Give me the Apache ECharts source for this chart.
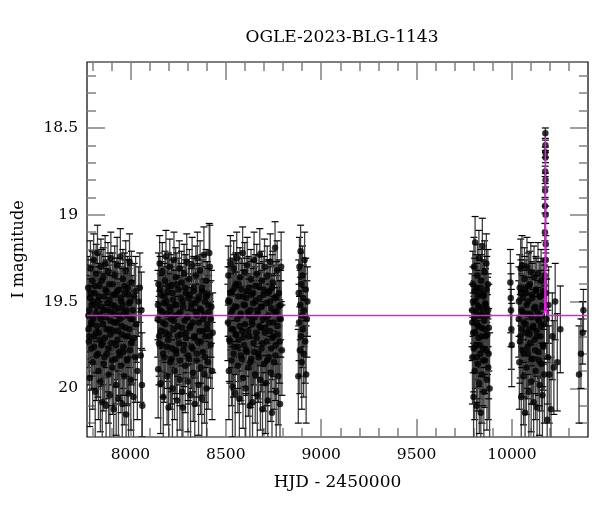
<!DOCTYPE html>
<html><head><meta charset="utf-8">
<script src="https://cdn.jsdelivr.net/npm/echarts@6/dist/echarts.min.js"></script>
<style>html,body{margin:0;padding:0;background:#fff}#c{width:600px;height:512px}</style>
</head><body><div id="c"></div>
<script>
// ---- Data: [HJD-2450000, I mag, error] ----
var season1 = [[7778,19.42,0.18],[7780,19.66,0.22],[7782,19.73,0.25],[7784,19.55,0.2],[7786,19.94,0.28],[7788,19.48,0.19],[7790,19.31,0.16],[7793,19.62,0.21],[7795,19.77,0.24],[7797,19.52,0.2],[7800,19.38,0.17],[7802,19.85,0.27],[7805,19.6,0.22],[7807,19.26,0.15],[7810,19.7,0.23],[7812,19.45,0.19],[7815,20.02,0.3],[7817,19.57,0.21],[7820,19.34,0.17],[7822,19.81,0.26],[7825,19.64,0.22],[7827,19.22,0.16],[7830,19.5,0.2],[7832,19.9,0.28],[7835,19.68,0.23],[7837,19.41,0.18],[7840,19.58,0.21],[7842,19.96,0.29],[7845,19.3,0.16],[7847,19.75,0.24],[7850,19.53,0.2],[7852,20.08,0.31],[7855,19.63,0.22],[7857,19.36,0.17],[7860,19.86,0.27],[7862,19.47,0.19],[7865,19.71,0.23],[7867,19.28,0.16],[7870,19.59,0.21],[7872,20.1,0.3],[7875,19.44,0.18],[7877,19.8,0.26],[7880,19.55,0.21],[7882,19.33,0.17],[7885,19.92,0.28],[7887,19.66,0.22],[7890,19.49,0.2],[7892,20.04,0.3],[7895,19.61,0.21],[7897,19.25,0.15],[7900,19.74,0.24],[7902,19.52,0.2],[7905,19.88,0.27],[7907,19.4,0.18],[7910,19.67,0.22],[7912,20.12,0.32],[7915,19.57,0.21],[7917,19.35,0.17],[7920,19.83,0.26],[7922,19.46,0.19],[7925,19.98,0.29],[7927,19.62,0.22],[7930,19.29,0.16],[7932,19.72,0.23],[7935,19.54,0.2],[7937,20.06,0.3],[7940,19.43,0.18],[7942,19.79,0.25],[7945,19.6,0.21],[7947,19.24,0.16],[7950,19.87,0.27],[7952,19.5,0.2],[7955,19.69,0.23],[7957,20.09,0.31],[7960,19.37,0.17],[7962,19.76,0.24],[7965,19.56,0.21],[7967,19.93,0.28],[7970,19.45,0.19],[7972,19.65,0.22],[7975,19.32,0.17],[7977,20.15,0.33],[7980,19.58,0.21],[7982,19.84,0.26],[7985,19.42,0.18],[7987,19.7,0.23],[7990,20.03,0.3],[7992,19.51,0.2],[7995,19.27,0.16],[7997,19.78,0.25],[8000,19.6,0.21],[8002,19.95,0.29],[8005,19.39,0.18],[8008,19.73,0.24],[8012,19.55,0.2],[8016,20.05,0.3],[8020,19.47,0.19],[8025,19.82,0.26],[8030,19.63,0.22],[8036,19.9,0.28],[8042,19.5,0.2],[8049,19.42,0.2],[8054,19.81,0.27],[8057,19.55,0.22],[8060,19.98,0.3],[8062,20.1,0.32]];
var season1b = [[7779.5,19.58,0.21],[7785,19.7,0.23],[7791,19.45,0.19],[7798,19.63,0.22],[7804,19.5,0.2],[7809,19.76,0.24],[7814,19.41,0.19],[7819,19.68,0.23],[7824,19.53,0.2],[7829,19.8,0.25],[7834,19.47,0.19],[7839,19.72,0.24],[7844,19.6,0.21],[7849,19.38,0.18],[7854,19.74,0.24],[7859,19.55,0.21],[7864,19.82,0.26],[7869,19.43,0.19],[7874,19.66,0.22],[7879,19.51,0.2],[7884,19.77,0.25],[7889,19.4,0.18],[7894,19.69,0.23],[7899,19.56,0.21],[7904,19.84,0.26],[7909,19.46,0.19],[7914,19.62,0.22],[7919,19.53,0.2],[7924,19.75,0.24],[7929,19.44,0.19],[7934,19.67,0.23],[7939,19.58,0.21],[7944,19.81,0.26],[7949,19.48,0.2],[7954,19.64,0.22],[7959,19.52,0.21],[7964,19.79,0.25],[7969,19.41,0.19],[7974,19.7,0.23],[7979,19.55,0.21],[7984,19.83,0.26],[7989,19.46,0.2],[7994,19.66,0.22],[7999,19.5,0.21],[8004,19.74,0.24],[8010,19.6,0.22],[8018,19.71,0.24],[8027,19.44,0.2]];
var season2 = [[8143,19.6,0.22],[8145,19.89,0.28],[8147,19.4,0.18],[8150,19.7,0.23],[8153,19.28,0.16],[8156,19.55,0.21],[8158,19.97,0.29],[8161,19.46,0.19],[8164,19.75,0.24],[8167,19.33,0.17],[8170,19.62,0.22],[8172,20.05,0.3],[8175,19.51,0.2],[8178,19.82,0.26],[8181,19.38,0.17],[8184,19.68,0.23],[8186,19.24,0.15],[8189,19.57,0.21],[8192,19.93,0.28],[8195,19.44,0.19],[8198,19.72,0.24],[8200,20.11,0.32],[8203,19.53,0.2],[8206,19.3,0.16],[8209,19.85,0.27],[8212,19.6,0.22],[8214,19.41,0.18],[8217,19.77,0.25],[8220,20.0,0.3],[8223,19.49,0.19],[8226,19.66,0.22],[8228,19.26,0.16],[8231,19.9,0.28],[8234,19.58,0.21],[8237,19.36,0.17],[8240,19.8,0.26],[8242,19.52,0.2],[8245,20.07,0.31],[8248,19.64,0.22],[8251,19.43,0.18],[8254,19.74,0.24],[8256,19.31,0.16],[8259,19.95,0.29],[8262,19.56,0.21],[8265,19.69,0.23],[8268,19.39,0.18],[8270,20.02,0.3],[8273,19.5,0.2],[8275,20.11,0.33],[8278,19.78,0.25],[8281,19.34,0.17],[8284,19.61,0.22],[8287,19.87,0.27],[8290,19.45,0.19],[8292,19.71,0.23],[8295,19.27,0.16],[8298,19.59,0.21],[8301,19.96,0.29],[8304,19.48,0.19],[8306,19.83,0.26],[8309,19.37,0.17],[8312,19.65,0.22],[8315,20.04,0.3],[8318,19.54,0.2],[8320,19.76,0.24],[8323,19.29,0.16],[8326,19.62,0.22],[8329,19.91,0.28],[8332,19.42,0.18],[8334,19.7,0.23],[8337,20.09,0.31],[8340,19.51,0.2],[8343,19.35,0.17],[8346,19.84,0.26],[8348,19.58,0.21],[8351,19.25,0.15],[8354,19.73,0.24],[8357,19.98,0.29],[8360,19.47,0.19],[8362,19.67,0.23],[8365,19.32,0.17],[8368,19.88,0.27],[8371,19.55,0.21],[8374,20.06,0.31],[8376,19.44,0.18],[8379,19.79,0.25],[8382,19.6,0.22],[8385,19.23,0.16],[8388,19.92,0.28],[8390,19.5,0.2],[8393,19.7,0.23],[8396,19.38,0.18],[8399,20.0,0.3],[8402,19.63,0.22],[8404,19.46,0.19],[8407,19.85,0.27],[8410,19.56,0.21],[8413,19.22,0.17],[8416,19.3,0.24],[8420,19.75,0.25],[8424,19.53,0.21],[8428,19.9,0.28],[8431,19.68,0.23]];
var season2b = [[8144,19.52,0.2],[8149,19.74,0.24],[8155,19.43,0.19],[8160,19.67,0.23],[8166,19.56,0.21],[8171,19.8,0.25],[8177,19.47,0.19],[8182,19.63,0.22],[8188,19.5,0.2],[8193,19.76,0.24],[8199,19.41,0.19],[8204,19.69,0.23],[8210,19.55,0.21],[8215,19.83,0.26],[8221,19.45,0.19],[8226,19.61,0.22],[8232,19.52,0.2],[8237,19.78,0.25],[8243,19.4,0.18],[8248,19.7,0.23],[8254,19.57,0.21],[8259,19.84,0.26],[8265,19.48,0.2],[8270,19.65,0.22],[8276,19.53,0.21],[8281,19.75,0.24],[8287,19.42,0.19],[8292,19.68,0.23],[8298,19.59,0.22],[8303,19.81,0.26],[8309,19.46,0.19],[8314,19.64,0.22],[8320,19.51,0.2],[8325,19.77,0.25],[8331,19.44,0.19],[8336,19.71,0.23],[8342,19.56,0.21],[8347,19.8,0.25],[8353,19.49,0.2],[8358,19.62,0.22],[8364,19.54,0.21],[8369,19.73,0.24],[8375,19.42,0.19],[8380,19.67,0.23],[8386,19.58,0.21],[8391,19.82,0.26],[8397,19.47,0.2],[8402,19.66,0.22],[8408,19.52,0.21],[8414,19.7,0.24],[8422,19.6,0.22]];
var season3 = [[8511,19.62,0.22],[8513,19.35,0.17],[8516,19.9,0.28],[8519,19.5,0.2],[8522,19.73,0.24],[8524,19.28,0.16],[8527,19.57,0.21],[8530,19.84,0.26],[8533,19.44,0.19],[8535,19.99,0.29],[8538,19.66,0.22],[8541,19.31,0.16],[8544,19.76,0.25],[8546,19.53,0.2],[8549,20.03,0.3],[8552,19.4,0.18],[8555,19.69,0.23],[8557,19.25,0.15],[8560,19.6,0.22],[8563,19.87,0.27],[8566,19.47,0.19],[8568,19.72,0.24],[8571,20.06,0.31],[8574,19.36,0.17],[8577,19.58,0.21],[8579,19.81,0.26],[8582,19.43,0.18],[8585,19.67,0.23],[8588,19.22,0.15],[8590,19.94,0.29],[8593,19.52,0.2],[8596,19.75,0.24],[8599,19.33,0.17],[8601,19.63,0.22],[8604,20.0,0.3],[8607,19.48,0.19],[8610,19.79,0.25],[8612,19.29,0.16],[8615,19.56,0.21],[8618,19.88,0.28],[8621,19.42,0.18],[8623,19.7,0.23],[8626,20.1,0.32],[8629,19.55,0.21],[8632,19.37,0.17],[8634,19.83,0.26],[8637,19.61,0.22],[8640,20.08,0.31],[8643,19.45,0.19],[8645,19.74,0.24],[8648,19.26,0.16],[8651,19.59,0.21],[8654,19.92,0.28],[8656,19.5,0.2],[8659,19.68,0.23],[8662,19.34,0.17],[8665,20.04,0.3],[8667,19.57,0.21],[8670,19.8,0.26],[8673,19.41,0.18],[8676,19.64,0.22],[8678,19.23,0.15],[8681,19.95,0.29],[8684,19.53,0.2],[8687,19.77,0.25],[8689,19.38,0.17],[8692,20.12,0.33],[8695,19.6,0.22],[8698,19.46,0.19],[8700,19.86,0.27],[8703,19.3,0.16],[8706,19.65,0.22],[8709,19.97,0.29],[8711,19.51,0.2],[8714,19.73,0.24],[8717,19.35,0.17],[8720,20.07,0.31],[8722,19.58,0.21],[8725,19.82,0.26],[8728,19.44,0.18],[8731,19.67,0.23],[8733,19.27,0.16],[8736,19.91,0.28],[8739,19.54,0.2],[8742,20.14,0.33],[8744,19.71,0.24],[8747,19.39,0.18],[8750,19.62,0.22],[8753,19.85,0.27],[8755,19.48,0.19],[8758,19.19,0.15],[8761,19.75,0.25],[8764,20.02,0.3],[8766,19.56,0.21],[8769,19.32,0.17],[8772,19.69,0.23],[8775,19.93,0.28],[8778,19.45,0.19],[8781,19.6,0.22],[8784,20.09,0.31],[8787,19.52,0.2],[8790,19.3,0.2],[8794,19.78,0.26]];
var season3b = [[8512,19.5,0.2],[8518,19.72,0.24],[8523,19.45,0.19],[8529,19.66,0.22],[8534,19.55,0.21],[8540,19.8,0.25],[8545,19.42,0.19],[8551,19.69,0.23],[8556,19.53,0.2],[8562,19.76,0.24],[8567,19.4,0.18],[8573,19.64,0.22],[8578,19.57,0.21],[8584,19.83,0.26],[8589,19.47,0.19],[8595,19.7,0.23],[8600,19.52,0.2],[8606,19.78,0.25],[8611,19.44,0.19],[8617,19.67,0.22],[8622,19.58,0.21],[8628,19.85,0.26],[8633,19.46,0.19],[8639,19.63,0.22],[8644,19.51,0.2],[8650,19.79,0.25],[8655,19.41,0.18],[8661,19.71,0.23],[8666,19.55,0.21],[8672,19.82,0.26],[8677,19.48,0.2],[8683,19.65,0.22],[8688,19.53,0.21],[8694,19.74,0.24],[8699,19.43,0.19],[8705,19.68,0.23],[8710,19.59,0.22],[8716,19.84,0.26],[8721,19.45,0.19],[8727,19.62,0.22],[8732,19.5,0.2],[8738,19.77,0.25],[8743,19.42,0.19],[8749,19.7,0.23],[8754,19.56,0.21],[8760,19.81,0.26],[8765,19.47,0.2],[8771,19.64,0.22],[8776,19.53,0.21],[8782,19.73,0.24],[8788,19.6,0.22]];
var season4 = [[8880,19.93,0.27],[8882,19.45,0.19],[8884,19.62,0.22],[8886,19.3,0.17],[8888,19.78,0.25],[8890,19.52,0.2],[8892,19.21,0.15],[8894,19.7,0.23],[8896,19.4,0.18],[8898,19.85,0.27],[8900,19.58,0.21],[8902,19.35,0.17],[8904,19.66,0.22],[8906,19.48,0.19],[8908,19.8,0.25],[8910,19.55,0.21],[8913,19.26,0.16],[8916,19.73,0.24],[8919,19.43,0.18],[8921,19.92,0.28],[8925,19.6,0.22],[8928,19.5,0.2]];
var season5 = [[9791,19.55,0.21],[9793,19.82,0.27],[9795,19.4,0.19],[9797,19.68,0.23],[9799,20.05,0.31],[9801,19.3,0.17],[9803,19.6,0.22],[9805,19.9,0.28],[9807,19.16,0.15],[9809,19.5,0.2],[9811,19.75,0.25],[9813,19.42,0.19],[9815,20.1,0.32],[9817,19.63,0.22],[9819,19.35,0.18],[9821,19.86,0.27],[9823,19.53,0.21],[9825,19.71,0.24],[9827,19.25,0.16],[9829,19.97,0.29],[9831,19.58,0.21],[9833,19.45,0.19],[9835,19.8,0.26],[9837,20.14,0.33],[9839,19.38,0.18],[9841,19.65,0.23],[9843,19.92,0.28],[9845,19.18,0.16],[9847,19.55,0.21],[9849,19.77,0.25],[9851,19.47,0.2],[9853,20.02,0.3],[9855,19.61,0.22],[9857,19.33,0.18],[9859,19.84,0.27],[9861,19.52,0.21],[9863,19.7,0.24],[9866,19.28,0.17],[9869,19.95,0.29],[9872,19.58,0.22],[9874,19.4,0.2],[9876,19.88,0.3],[9879,19.65,0.25],[9883,20.0,0.32]];
var season5b = [[9792,19.62,0.22],[9796,19.5,0.2],[9800,19.77,0.25],[9804,19.44,0.19],[9808,19.68,0.23],[9812,19.56,0.21],[9816,19.82,0.26],[9820,19.47,0.19],[9824,19.64,0.22],[9828,19.53,0.21],[9832,19.75,0.24],[9836,19.42,0.19],[9840,19.7,0.23],[9844,19.58,0.21],[9848,19.84,0.26],[9852,19.46,0.2],[9856,19.66,0.22],[9860,19.51,0.2],[9864,19.78,0.25],[9868,19.43,0.19],[9871,19.69,0.23],[9875,19.55,0.21],[9878,19.8,0.26]];
var season6 = [[9992,19.39,0.19],[9994,19.48,0.2],[9995,19.55,0.21],[9997,19.66,0.23],[9999,19.75,0.24],[10036,19.6,0.22],[10039,19.85,0.27],[10041,19.42,0.19],[10044,19.7,0.24],[10046,19.31,0.17],[10049,20.05,0.31],[10051,19.55,0.21],[10053,19.29,0.17],[10056,19.78,0.25],[10058,19.48,0.2],[10061,19.93,0.28],[10063,19.62,0.22],[10066,19.37,0.18],[10069,20.14,0.33],[10071,19.68,0.23],[10074,19.45,0.19],[10076,19.88,0.27],[10079,19.3,0.17],[10081,19.57,0.21],[10084,19.8,0.26],[10086,19.5,0.2],[10089,20.02,0.3],[10091,19.66,0.23],[10094,19.4,0.19],[10096,19.74,0.24],[10099,19.33,0.17],[10101,19.96,0.29],[10104,19.59,0.22],[10106,19.46,0.19],[10109,19.83,0.26],[10111,19.64,0.22],[10114,20.08,0.31],[10116,19.36,0.18],[10119,19.72,0.24],[10121,19.53,0.21],[10124,19.9,0.28],[10126,19.43,0.19],[10129,19.67,0.23],[10132,20.11,0.32],[10134,19.56,0.21],[10137,19.34,0.18],[10139,19.79,0.25],[10142,19.61,0.22],[10145,19.98,0.29],[10147,19.47,0.2],[10150,19.7,0.24],[10153,19.38,0.18],[10155,19.86,0.27],[10158,19.58,0.22],[10160,20.04,0.3],[10163,19.44,0.19],[10165,19.76,0.25],[10168,19.63,0.23],[10170,19.92,0.28],[10182,19.6,0.23],[10185,20.18,0.33],[10188,19.82,0.27],[10192,19.52,0.22],[10196,19.92,0.28],[10205,20.12,0.3],[10212,19.7,0.25],[10220,19.88,0.27],[10227,19.5,0.22],[10238,19.85,0.28],[10254,19.66,0.25]];
var season6b = [[10037,19.5,0.2],[10042,19.73,0.24],[10047,19.45,0.19],[10052,19.66,0.22],[10057,19.56,0.21],[10062,19.8,0.25],[10067,19.43,0.19],[10072,19.63,0.22],[10077,19.52,0.2],[10082,19.76,0.24],[10087,19.41,0.19],[10092,19.69,0.23],[10097,19.57,0.21],[10102,19.83,0.26],[10107,19.48,0.2],[10112,19.65,0.22],[10117,19.54,0.21],[10122,19.78,0.25],[10127,19.44,0.19],[10132,19.7,0.23],[10137,19.6,0.22],[10142,19.84,0.26],[10147,19.47,0.2],[10152,19.64,0.22],[10157,19.53,0.21],[10162,19.75,0.24],[10167,19.46,0.2]];
var peak = [[10172,19.35,0.06],[10173,19.1,0.05],[10173.5,18.95,0.04],[10174,18.86,0.04],[10174.5,18.75,0.03],[10175,18.64,0.03],[10175.3,18.53,0.03],[10175.6,18.6,0.03],[10176,18.67,0.03],[10176.5,18.8,0.04],[10177,19.0,0.05],[10177.5,19.17,0.05],[10178,19.26,0.06],[10179,19.45,0.08]];
var season7 = [[10352,19.92,0.28],[10362,19.8,0.2],[10371,19.68,0.18],[10375,19.55,0.12]];
// model light curve (baseline 19.58, peak near 10175.4)
var modelCurve = [[7772,19.58],[10160,19.58],[10166,19.575],[10170,19.565],[10172,19.54],[10173,19.49],[10174,19.3],[10174.7,18.95],[10175.4,18.55],[10176.1,18.95],[10176.8,19.3],[10177.8,19.49],[10179,19.54],[10181,19.565],[10185,19.575],[10191,19.58],[10399,19.58]];
// axis ticks
var xMajor = [8000,8500,9000,9500,10000];
var xMinor = [7800,7900,8100,8200,8300,8400,8600,8700,8800,8900,9100,9200,9300,9400,9600,9700,9800,9900,10100,10200,10300];
var yMajor = [18.5,19,19.5,20];
var yMinor = [18.2,18.3,18.4,18.6,18.7,18.8,18.9,19.1,19.2,19.3,19.4,19.6,19.7,19.8,19.9,20.1,20.2];
var xMin = 7772, xMax = 10399, yMin = 18.12, yMax = 20.28;

var allPts = [].concat(season1, season1b, season2, season2b, season3, season3b, season4, season5, season5b, season6, season6b, peak, season7);
var FONT = 'DejaVu Serif';
var tickColor = '#808080';

function xAx(pos, vals, len, labels, extra) {
  var a = {
    type: 'value', position: pos, min: xMin, max: xMax, gridIndex: 0,
    axisLine: { show: false }, splitLine: { show: false },
    axisTick: { show: true, inside: true, length: len, customValues: vals, lineStyle: { color: tickColor, width: 1.5 } },
    axisLabel: labels ? { show: true, customValues: vals, formatter: function (v) { return String(v); }, fontFamily: FONT, fontSize: 15.5, color: '#000', margin: 10 } : { show: false }
  };
  return Object.assign(a, extra || {});
}
function yAx(pos, vals, len, labels, extra) {
  var a = {
    type: 'value', position: pos, min: yMin, max: yMax, inverse: true, gridIndex: 0,
    axisLine: { show: false }, splitLine: { show: false },
    axisTick: { show: true, inside: true, length: len, customValues: vals, lineStyle: { color: tickColor, width: 1.5 } },
    axisLabel: labels ? { show: true, customValues: vals, formatter: function (v) { return String(v); }, fontFamily: FONT, fontSize: 15.5, color: '#000', margin: 9 } : { show: false }
  };
  return Object.assign(a, extra || {});
}

var chart = echarts.init(document.getElementById('c'), null, { renderer: 'canvas' });
chart.setOption({
  animation: false,
  backgroundColor: '#fff',
  title: { text: 'OGLE-2023-BLG-1143', left: 337, top: 24, textAlign: 'center',
    textStyle: { fontFamily: FONT, fontSize: 17, fontWeight: 'normal', color: '#000' } },
  grid: { left: 87, right: 12, top: 62, bottom: 75, show: true, borderColor: '#000', borderWidth: 1.2, backgroundColor: 'transparent' },
  xAxis: [
    xAx('bottom', xMajor, 18, true, { name: 'HJD - 2450000', nameLocation: 'middle', nameGap: 37,
      nameTextStyle: { fontFamily: FONT, fontSize: 17, color: '#000' } }),
    xAx('bottom', xMinor, 9, false),
    xAx('top', xMajor, 18, false),
    xAx('top', xMinor, 9, false)
  ],
  yAxis: [
    yAx('left', yMajor, 18, true, { name: 'I magnitude', nameLocation: 'middle', nameGap: 60, nameRotate: 90,
      nameTextStyle: { fontFamily: FONT, fontSize: 16, color: '#000' } }),
    yAx('left', yMinor, 9, false),
    yAx('right', yMajor, 18, false),
    yAx('right', yMinor, 9, false)
  ],
  series: [
    {
      type: 'custom', xAxisIndex: 0, yAxisIndex: 0, clip: true, z: 2,
      data: allPts, encode: { x: 0, y: 1 },
      renderItem: function (params, api) {
        var x = api.value(0), y = api.value(1), e = api.value(2);
        var t = api.coord([x, y - e]);
        var b = api.coord([x, y + e]);
        var hw = 3.5;
        return { type: 'group', children: [
          { type: 'line', shape: { x1: t[0], y1: t[1], x2: b[0], y2: b[1] }, style: { stroke: '#404040', lineWidth: 1.3 } },
          { type: 'line', shape: { x1: t[0] - hw, y1: t[1], x2: t[0] + hw, y2: t[1] }, style: { stroke: '#000', lineWidth: 1.2 } },
          { type: 'line', shape: { x1: b[0] - hw, y1: b[1], x2: b[0] + hw, y2: b[1] }, style: { stroke: '#000', lineWidth: 1.2 } }
        ] };
      }
    },
    {
      type: 'scatter', xAxisIndex: 0, yAxisIndex: 0, z: 3,
      data: allPts.map(function (p) { return [p[0], p[1]]; }),
      symbol: 'circle', symbolSize: 6.5, itemStyle: { color: '#000' }
    },
    {
      type: 'line', xAxisIndex: 0, yAxisIndex: 0, z: 4, data: modelCurve,
      showSymbol: false, smooth: false, lineStyle: { color: '#dd22dd', width: 1.5 }
    }
  ]
});
</script></body></html>
